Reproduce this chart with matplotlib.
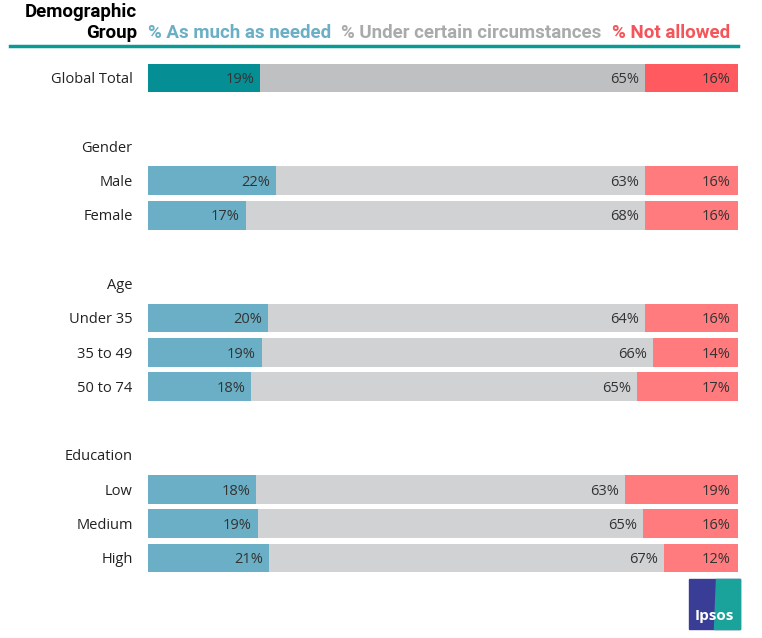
import matplotlib
matplotlib.use('Agg')
import matplotlib.pyplot as plt
from matplotlib.patches import Rectangle, Polygon

groups = ['Global Total', 'Gender', 'Male', 'Female', 'Age', 'Under 35', '35 to 49',
          '50 to 74', 'Education', 'Low', 'Medium', 'High']
rows = [0, 2, 3, 4, 6, 7, 8, 9, 11, 12, 13, 14]
# None = section header
needed = [19, None, 22, 17, None, 20, 19, 18, None, 18, 19, 21]
certain = [65, None, 63, 68, None, 64, 66, 65, None, 63, 65, 67]
not_allowed = [16, None, 16, 16, None, 16, 14, 17, None, 19, 16, 12]
# segment boundaries (labels are rounded)
needed_w = [19, None, 21.7, 16.6, None, 20.3, 19.3, 17.5, None, 18.3, 18.6, 20.5]
red_w = [15.8, None, 15.8, 15.8, None, 15.8, 14.4, 17.1, None, 19.2, 16.1, 12.5]

W, H = 762, 638
fig = plt.figure(figsize=(W / 100, H / 100), dpi=100)
lab_font = 'Open Sans'

ax = fig.add_axes([148 / W, 1 - 575.15 / H, 590 / W, (575.15 - 60.85) / H])
ax.set_xlim(0, 100)
ax.set_ylim(14.5, -0.5)
ax.axis('off')

for i, (g, r) in enumerate(zip(groups, rows)):
    ax.text(-2.6, r + 0.05, g, ha='right', va='center', fontsize=10.5, family=lab_font, color='#222222')
    if needed[i] is None:
        continue
    if i == 0:
        c1, c2, c3 = '#058E93', '#BFC0C2', '#FF5A5F'
    else:
        c1, c2, c3 = '#6AAFC6', '#D1D2D4', '#FF7B7D'
    a = needed_w[i]
    c = red_w[i]
    h = 0.84
    ax.barh(r, a, left=0, height=h, color=c1, linewidth=0)
    ax.barh(r, 100 - a - c, left=a, height=h, color=c2, linewidth=0)
    ax.barh(r, c, left=100 - c, height=h, color=c3, linewidth=0)
    ax.text(a - 1.0, r + 0.05, f'{needed[i]}%', ha='right', va='center', fontsize=10.5, family=lab_font, color='#333333')
    ax.text(100 - c - 1.0, r + 0.05, f'{certain[i]}%', ha='right', va='center', fontsize=10.5, family=lab_font, color='#333333')
    ax.text(98.8, r + 0.05, f'{not_allowed[i]}%', ha='right', va='center', fontsize=10.5, family=lab_font, color='#333333')

# header
hdr_font = 'Roboto'
hs = 13.5
fig.text(137 / W, 1 - 12 / H, 'Demographic', ha='right', va='center', fontsize=hs,
         fontweight='bold', family=hdr_font, color='black')
fig.text(137 / W, 1 - 33 / H, 'Group', ha='right', va='center', fontsize=hs,
         fontweight='bold', family=hdr_font, color='black')
fig.text(148 / W, 1 - 33 / H, '% As much as needed', ha='left', va='center', fontsize=hs,
         fontweight='bold', family=hdr_font, color='#6AAFC6')
fig.text(341 / W, 1 - 33 / H, '% Under certain circumstances', ha='left', va='center', fontsize=hs,
         fontweight='bold', family=hdr_font, color='#A9AAAC')
fig.text(612 / W, 1 - 33 / H, '% Not allowed', ha='left', va='center', fontsize=hs,
         fontweight='bold', family=hdr_font, color='#F4555A')
fig.add_artist(plt.Line2D([10 / W, 738 / W], [1 - 46 / H, 1 - 46 / H], color='#0A9A96', lw=2.5))

# Ipsos logo
x0, y0, x1, y1 = 689 / W, 1 - 629 / H, 740 / W, 1 - 579 / H
fig.add_artist(Rectangle((x0, y0), x1 - x0, y1 - y0, color='#3A3D96', transform=fig.transFigure))
fig.add_artist(Polygon([(716 / W, y1), (x1, y1), (x1, y0), (714 / W, y0)], closed=True,
                       color='#19A39A', transform=fig.transFigure))
fig.text(714 / W, 1 - 616 / H, 'Ipsos', ha='center', va='center', fontsize=11,
         fontweight='bold', family='Open Sans', color='white')

fig.savefig('out.png', dpi=100)
